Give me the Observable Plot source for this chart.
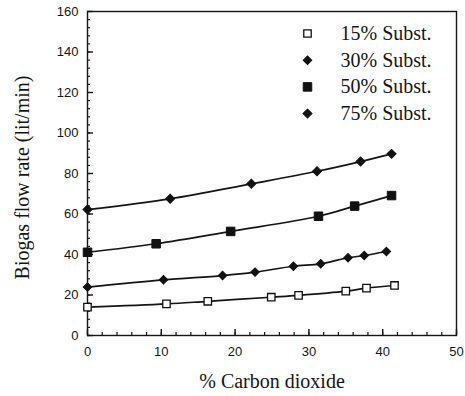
<!DOCTYPE html>
<html>
<head>
<meta charset="utf-8">
<script src="https://cdn.jsdelivr.net/npm/d3@7"></script>
<script src="https://cdn.jsdelivr.net/npm/@observablehq/plot@0.6"></script>
<style>
  html, body { margin: 0; padding: 0; background: #fff; }
  #chart svg { display: block; }
</style>
</head>
<body>
<div id="chart"></div>
<script>
// Biogas flow rate vs. CO2 content, for four substitution levels
const seriesNames = ["15% Subst.", "30% Subst.", "50% Subst.", "75% Subst."];

const co2_15  = [0, 10.7, 16.3, 24.9, 28.6, 35.0, 37.8, 41.6];
const flow_15 = [14.0, 15.6, 16.9, 18.9, 19.8, 21.9, 23.4, 24.7];

const co2_30  = [0, 10.3, 18.3, 22.7, 27.9, 31.6, 35.3, 37.5, 40.5];
const flow_30 = [23.9, 27.5, 29.6, 31.3, 34.2, 35.4, 38.4, 39.5, 41.5];

const co2_50  = [0, 9.3, 19.4, 31.3, 36.2, 41.2];
const flow_50 = [41.1, 45.3, 51.4, 58.9, 63.9, 69.1];

const co2_75  = [0, 11.2, 22.2, 31.1, 37.0, 41.2];
const flow_75 = [62.2, 67.5, 74.9, 81.1, 85.9, 89.7];

const xMajor = [0, 10, 20, 30, 40, 50];
const yMajor = [0, 20, 40, 60, 80, 100, 120, 140, 160];
const xMinor = d3.range(0, 50.01, 2);
const yMinor = d3.range(0, 160.01, 4);

const seriesData = [
  [co2_15, flow_15],
  [co2_30, flow_30],
  [co2_50, flow_50],
  [co2_75, flow_75]
].map(([xs, ys], i) => xs.map((x, j) => ({series: seriesNames[i], co2: x, flow: ys[j]})));

// marker styles per series
const markerStyle = [
  {symbol: "square", r: 4.2, fill: "#fff", stroke: "#111", strokeWidth: 1.3},
  {symbol: "square", r: 3.4, rotate: 45, fill: "#111", stroke: "#111", strokeWidth: 1},
  {symbol: "square", r: 4.8, fill: "#111", stroke: "#111", strokeWidth: 1},
  {symbol: "square", r: 3.6, rotate: 45, fill: "#111", stroke: "#111", strokeWidth: 1}
];

const serif = "'Liberation Serif', 'Times New Roman', serif";
const ink = "#151515";

const marks = [
  Plot.frame({stroke: ink, strokeWidth: 1.4}),
  Plot.axisY(yMinor, {tickSize: -3, fill: "none", stroke: ink, strokeWidth: 1.2, label: null}),
  Plot.axisY(yMajor, {tickSize: -6, fill: "none", stroke: ink, strokeWidth: 1.4, label: null}),
  Plot.axisY(yMajor, {tickSize: 0, tickPadding: 9, fill: ink, label: null}),
  Plot.axisX(xMinor, {tickSize: -3, fill: "none", stroke: ink, strokeWidth: 1.2, label: null}),
  Plot.axisX(xMajor, {tickSize: -6, fill: "none", stroke: ink, strokeWidth: 1.4, label: null}),
  Plot.axisX(xMajor, {tickSize: 0, tickPadding: 11, fill: ink, label: null}),
  Plot.text(["% Carbon dioxide"], {frameAnchor: "bottom", dy: 46, fontFamily: serif, fontSize: 20, fill: ink, lineAnchor: "middle"}),
  Plot.text(["Biogas flow rate (lit/min)"], {frameAnchor: "left", dx: -65, dy: 4, rotate: -90, textAnchor: "middle", lineAnchor: "middle", fontFamily: serif, fontSize: 20, fill: ink})
];

seriesData.forEach((rows, i) => {
  marks.push(Plot.line(rows, {x: "co2", y: "flow", curve: "catmull-rom", stroke: ink, strokeWidth: 1.7}));
  marks.push(Plot.dot(rows, {x: "co2", y: "flow", ...markerStyle[i]}));
  // legend row, stacked under the top-right corner of the frame
  const rowDy = 22 + 26.7 * i;
  marks.push(Plot.dot([seriesNames[i]], {frameAnchor: "top-left", dx: 220, dy: rowDy, ...markerStyle[i]}));
  marks.push(Plot.text([seriesNames[i]], {frameAnchor: "top-left", dx: 253, dy: rowDy, textAnchor: "start", lineAnchor: "middle", fontFamily: serif, fontSize: 20, fill: ink}));
});

const chart = Plot.plot({
  width: 465,
  height: 396,
  marginLeft: 87,
  marginRight: 9,
  marginTop: 11,
  marginBottom: 61,
  x: {domain: [0, 50]},
  y: {domain: [0, 160]},
  style: {fontFamily: "'Liberation Sans', Arial, sans-serif", fontSize: "13px", color: ink, background: "#fff"},
  marks
});

document.getElementById("chart").appendChild(chart);
</script>
</body>
</html>
